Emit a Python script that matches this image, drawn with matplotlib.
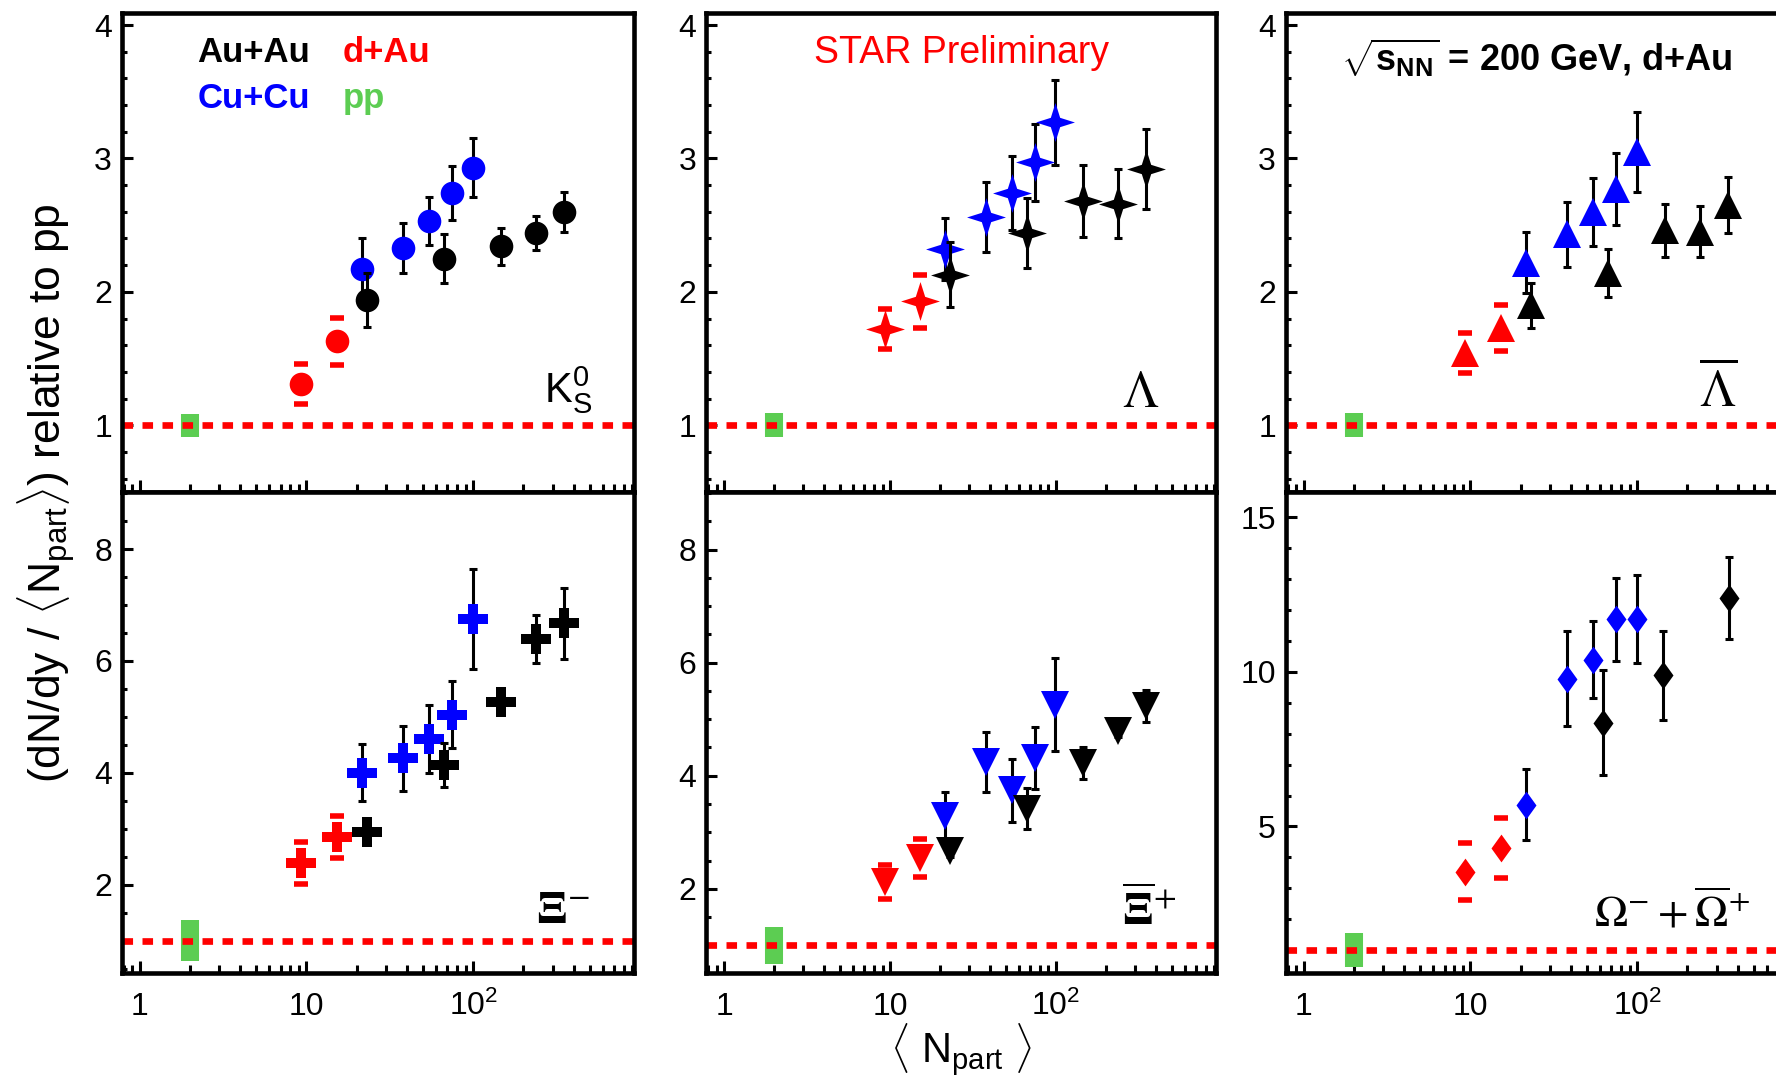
import matplotlib
matplotlib.use('Agg')
import matplotlib.pyplot as plt
from matplotlib.ticker import FixedLocator, FixedFormatter, NullFormatter, MultipleLocator, LogLocator

plt.rcParams['font.family'] = ['Liberation Sans', 'DejaVu Sans']
plt.rcParams['mathtext.fontset'] = 'custom'
plt.rcParams['mathtext.rm'] = 'Liberation Sans'
plt.rcParams['mathtext.it'] = 'Liberation Sans:italic'
plt.rcParams['mathtext.bf'] = 'Liberation Sans:bold'
plt.rcParams['lines.scale_dashes'] = False

# ---------------- data ----------------
npart_pp = [2.0]
npart_dau = [9.3, 15.2]
npart_cucu = [21.5, 38, 54, 75, 99]
npart_auau = [23, 67, 146, 237, 350]
npart_auau_omega = [62, 142, 356]

# K0S
k0s_dau = [1.31, 1.63]
k0s_dau_err = [0.15, 0.175]
k0s_cucu = [2.17, 2.33, 2.53, 2.74, 2.93]
k0s_cucu_err = [0.23, 0.185, 0.18, 0.20, 0.22]
k0s_auau = [1.94, 2.25, 2.34, 2.44, 2.60]
k0s_auau_err = [0.20, 0.18, 0.14, 0.13, 0.15]
k0s_pp_err = 0.085

# Lambda
lam_dau = [1.72, 1.93]
lam_dau_err = [0.15, 0.20]
lam_cucu = [2.32, 2.56, 2.74, 2.97, 3.27]
lam_cucu_err = [0.23, 0.26, 0.275, 0.29, 0.32]
lam_auau = [2.13, 2.44, 2.68, 2.66, 2.92]
lam_auau_err = [0.24, 0.26, 0.27, 0.26, 0.30]
lam_pp_err = 0.09

# anti-Lambda
alam_dau = [1.54, 1.73]
alam_dau_err = [0.15, 0.17]
alam_cucu = [2.22, 2.43, 2.60, 2.77, 3.05]
alam_cucu_err = [0.23, 0.24, 0.255, 0.27, 0.30]
alam_auau = [1.90, 2.14, 2.46, 2.45, 2.65]
alam_auau_err = [0.17, 0.18, 0.20, 0.19, 0.21]
alam_pp_err = 0.09

# Xi-
xim_dau = [2.39, 2.85]
xim_dau_err = [0.38, 0.37]
xim_cucu = [4.00, 4.26, 4.61, 5.04, 6.75]
xim_cucu_err = [0.51, 0.58, 0.61, 0.60, 0.89]
xim_auau = [2.94, 4.14, 5.27, 6.39, 6.67]
xim_auau_err = [0.15, 0.40, 0.15, 0.43, 0.63]
xim_pp_err = 0.36

# anti-Xi+
xip_dau = [2.12, 2.54]
xip_dau_err = [0.30, 0.34]
xip_cucu = [3.28, 4.25, 3.74, 4.31, 5.26]
xip_cucu_err = [0.44, 0.53, 0.55, 0.55, 0.82]
xip_auau = [2.66, 3.42, 4.22, 4.79, 5.23]
xip_auau_err = [0.10, 0.37, 0.28, 0.10, 0.28]
xip_pp_err = 0.33

# Omega + anti-Omega
om_dau = [3.54, 4.30]
om_dau_err = [0.91, 0.97]
om_cucu = [5.70, 9.78, 10.4, 11.7, 11.7]
om_cucu_err = [1.15, 1.54, 1.25, 1.35, 1.42]
om_auau = [8.35, 9.89, 12.4]
om_auau_err = [1.70, 1.43, 1.33]
om_pp_err = 0.56

xtick_vals = [1, 10, 100]
xtick_labels = ['1', '10', r'$10^{2}$']
ytick_top = [1, 2, 3, 4]
ytick_xi = [2, 4, 6, 8]
ytick_om = [5, 10, 15]

# ---------------- style ----------------
W, H = 1776, 1089
RED, BLUE, BLACK, GREEN = '#ff0000', '#0000ff', '#000000', '#5ccd52'

fig = plt.figure(figsize=(W / 100, H / 100), dpi=100)


def fx(px):
    return px / W


def fy(py):
    return 1 - py / H


def rect(x0, y0, x1, y1):
    return [fx(x0), fy(y1), (x1 - x0) / W, (y1 - y0) / H]


star4 = [(0, 1), (0.24, 0.24), (1, 0), (0.24, -0.24), (0, -1),
         (-0.24, -0.24), (-1, 0), (-0.24, 0.24), (0, 1)]
diamond = [(0, 1), (0.72, 0), (0, -1), (-0.72, 0), (0, 1)]

col_x = [(121.7, 634), (706.3, 1216), (1285.7, 1798)]
row_y = [(13, 492), (492, 973)]


def setup_axis(ax, ylim, ymaj, ymin_step, bottom_labels):
    ax.set_xscale('log')
    ax.set_xlim(0.78, 920)
    ax.set_ylim(*ylim)
    ax.xaxis.set_major_locator(FixedLocator(xtick_vals))
    ax.xaxis.set_minor_locator(LogLocator(base=10, subs=range(2, 10)))
    ax.xaxis.set_minor_formatter(NullFormatter())
    if bottom_labels:
        ax.xaxis.set_major_formatter(FixedFormatter(xtick_labels))
    else:
        ax.xaxis.set_major_formatter(NullFormatter())
    ax.yaxis.set_major_locator(FixedLocator(ymaj))
    ax.yaxis.set_minor_locator(MultipleLocator(ymin_step))
    for s in ax.spines.values():
        s.set_linewidth(3.3)
    ax.tick_params(which='both', direction='in', top=False, right=False, width=2.2)
    ax.tick_params(axis='y', which='major', length=8, pad=7, labelsize=23)
    ax.tick_params(axis='y', which='minor', length=3.5)
    ax.tick_params(axis='x', which='major', length=8.5, pad=30, labelsize=23)
    ax.tick_params(axis='x', which='minor', length=5.5)
    if bottom_labels:
        plt.setp(ax.get_xticklabels(), va='baseline')


def draw_data(ax, dau, dau_err, cucu, cucu_err, auau, auau_err, auau_x,
              pp_err, marker, ms):
    ax.vlines(npart_pp, [1 - pp_err], [1 + pp_err], colors=GREEN,
              linewidth=13, zorder=2).set_capstyle('butt')
    ax.axhline(1, color=RED, lw=4.8, dashes=(7.6, 6.8), zorder=2.5)
    # d+Au: systematic caps only
    up = [v + e for v, e in zip(dau, dau_err)]
    dn = [v - e for v, e in zip(dau, dau_err)]
    ax.plot(npart_dau, up, ls='none', marker='_', ms=10, mew=4, color=RED, zorder=3)
    ax.plot(npart_dau, dn, ls='none', marker='_', ms=10, mew=4, color=RED, zorder=3)
    ax.plot(npart_dau, dau, ls='none', marker=marker, ms=ms, color=RED, mew=0, zorder=3.5)
    # Cu+Cu
    ax.errorbar(npart_cucu, cucu, yerr=cucu_err, fmt='none', ecolor=BLACK,
                elinewidth=2.2, capsize=3, capthick=2.2, zorder=4)
    ax.plot(npart_cucu, cucu, ls='none', marker=marker, ms=ms, color=BLUE, mew=0, zorder=4.5)
    # Au+Au
    ax.errorbar(auau_x, auau, yerr=auau_err, fmt='none', ecolor=BLACK,
                elinewidth=2.2, capsize=3, capthick=2.2, zorder=5)
    ax.plot(auau_x, auau, ls='none', marker=marker, ms=ms, color=BLACK, mew=0, zorder=5.5)


panels = [
    (0, 0, (0.5, 4.09), ytick_top, 0.2, k0s_dau, k0s_dau_err, k0s_cucu, k0s_cucu_err,
     k0s_auau, k0s_auau_err, npart_auau, k0s_pp_err, 'o', 17),
    (0, 1, (0.5, 4.09), ytick_top, 0.2, lam_dau, lam_dau_err, lam_cucu, lam_cucu_err,
     lam_auau, lam_auau_err, npart_auau, lam_pp_err, star4, 28),
    (0, 2, (0.5, 4.09), ytick_top, 0.2, alam_dau, alam_dau_err, alam_cucu, alam_cucu_err,
     alam_auau, alam_auau_err, npart_auau, alam_pp_err, '^', 20),
    (1, 0, (0.42, 9.02), ytick_xi, 0.5, xim_dau, xim_dau_err, xim_cucu, xim_cucu_err,
     xim_auau, xim_auau_err, npart_auau, xim_pp_err, 'P', 22),
    (1, 1, (0.51, 9.02), ytick_xi, 0.5, xip_dau, xip_dau_err, xip_cucu, xip_cucu_err,
     xip_auau, xip_auau_err, npart_auau, xip_pp_err, 'v', 20),
    (1, 2, (0.26, 15.82), ytick_om, 1.0, om_dau, om_dau_err, om_cucu, om_cucu_err,
     om_auau, om_auau_err, npart_auau_omega, om_pp_err, diamond, 20),
]

for (r, c, ylim, ymaj, ymin_step, dau, dau_err, cucu, cucu_err, auau, auau_err,
     ax_x, pp_err, marker, ms) in panels:
    x0, x1 = col_x[c]
    y0, y1 = row_y[r]
    ax = fig.add_axes(rect(x0, y0, x1, y1))
    draw_data(ax, dau, dau_err, cucu, cucu_err, auau, auau_err, ax_x, pp_err, marker, ms)
    setup_axis(ax, ylim, ymaj, ymin_step, bottom_labels=(r == 1))

# ---------------- texts ----------------
fig.text(fx(197.5), fy(61.7), 'Au+Au', color=BLACK, fontsize=25, fontweight='bold', va='baseline')
fig.text(fx(342.7), fy(61.7), 'd+Au', color=RED, fontsize=25, fontweight='bold', va='baseline')
fig.text(fx(197.5), fy(108), 'Cu+Cu', color=BLUE, fontsize=25, fontweight='bold', va='baseline')
fig.text(fx(342.7), fy(108), 'pp', color=GREEN, fontsize=25, fontweight='bold', va='baseline')

fig.text(fx(961), fy(63), 'STAR Preliminary', color=RED, fontsize=27, ha='center', va='baseline')
fig.text(fx(1341), fy(71), r'$\sqrt{\mathbf{s}_{\mathbf{NN}}}$ = 200 GeV, d+Au',
         fontsize=26, fontweight='bold', va='baseline')

fig.text(fx(592), fy(403), r'$\mathrm{K}_{\mathrm{S}}^{0}$', fontsize=30, ha='right', va='baseline')
fig.text(fx(1159), fy(407), r'$\Lambda$', fontsize=37, ha='right', va='baseline', math_fontfamily='stix')
fig.text(fx(1737), fy(407), r'$\overline{\Lambda}$', fontsize=37, ha='right', va='baseline', math_fontfamily='stix')
fig.text(fx(590), fy(923), r'$\mathbf{\Xi}^{-}$', fontsize=34, ha='right', va='baseline', math_fontfamily='stix')
fig.text(fx(1176), fy(926), r'$\overline{\mathbf{\Xi}}^{+}$', fontsize=34, ha='right', va='baseline', math_fontfamily='stix')
fig.text(fx(1750), fy(927), r'$\Omega^{-}+\overline{\Omega}^{+}$', fontsize=32, ha='right', va='baseline', math_fontfamily='stix')

fig.text(fx(961), fy(1063), r'$\langle$ N$_{\mathrm{part}}$ $\rangle$', fontsize=30, ha='center', va='baseline')
fig.text(fx(47), fy(493), r'(dN/dy / $\langle$N$_{\mathrm{part}}\rangle$) relative to pp',
         fontsize=32, rotation=90, ha='center', va='center')

fig.savefig('out.png', dpi=100)
